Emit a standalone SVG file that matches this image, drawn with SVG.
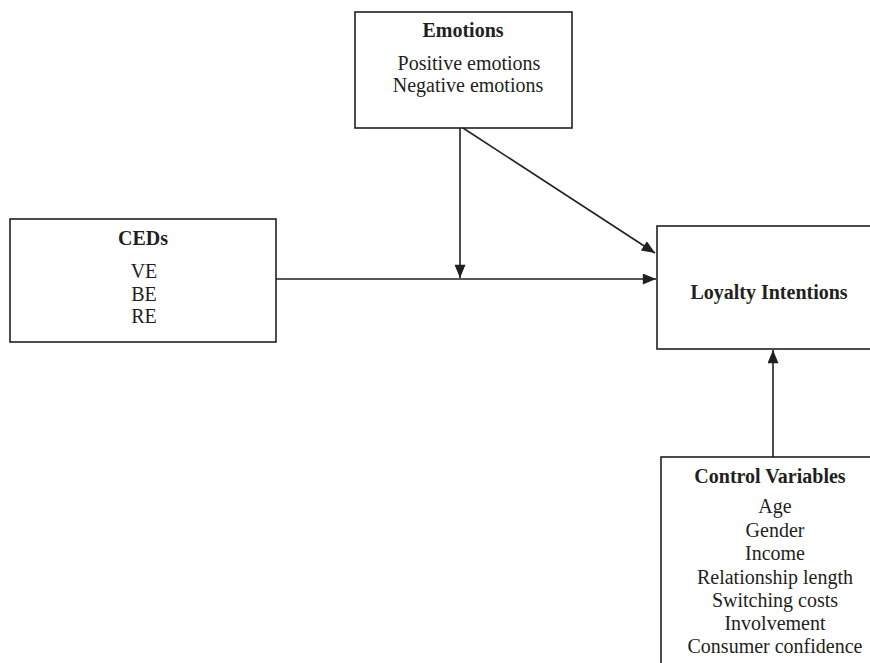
<svg xmlns="http://www.w3.org/2000/svg" width="870" height="663" viewBox="0 0 870 663">
<style>
.box{fill:#fff;stroke:#231f20;stroke-width:1.6}
.t{font-family:"Liberation Serif","Times New Roman",serif;font-size:20px;fill:#231f20;text-anchor:middle}
.b{font-weight:bold}
.c{stroke:#231f20;stroke-width:1.6;fill:none}
</style>
<defs>
<marker id="ah2" viewBox="0 0 12 10" refX="12" refY="5" markerWidth="14" markerHeight="11" markerUnits="userSpaceOnUse" orient="auto">
<path d="M0,0 L12,5 L0,10 z" fill="#231f20"/>
</marker>
</defs>
<g id="emotions">
<rect class="box" x="355" y="12" width="217" height="116"/>
<text class="t b" x="463" y="37">Emotions</text>
<text class="t" x="469" y="70">Positive emotions</text>
<text class="t" x="468" y="92">Negative emotions</text>
</g>
<g id="ceds">
<rect class="box" x="10" y="219" width="266" height="123"/>
<text class="t b" x="143" y="245">CEDs</text>
<text class="t" x="144" y="278">VE</text>
<text class="t" x="144" y="301">BE</text>
<text class="t" x="144" y="323">RE</text>
</g>
<g id="loyalty">
<rect class="box" x="657" y="226" width="220" height="123"/>
<text class="t b" x="769" y="299">Loyalty Intentions</text>
</g>
<g id="control">
<rect class="box" x="661" y="457" width="220" height="220"/>
<text class="t b" x="770" y="483">Control Variables</text>
<text class="t" x="775" y="513">Age</text>
<text class="t" x="775" y="537">Gender</text>
<text class="t" x="775" y="560">Income</text>
<text class="t" x="775" y="584">Relationship length</text>
<text class="t" x="775" y="607">Switching costs</text>
<text class="t" x="775" y="630">Involvement</text>
<text class="t" x="775" y="653">Consumer confidence</text>
</g>
<g id="connectors">
<line class="c" x1="276" y1="279" x2="656" y2="279" marker-end="url(#ah2)"/>
<line class="c" x1="460" y1="128" x2="460" y2="278" marker-end="url(#ah2)"/>
<line class="c" x1="463" y1="128" x2="655" y2="253" marker-end="url(#ah2)"/>
<line class="c" x1="773" y1="457" x2="773" y2="350" marker-end="url(#ah2)"/>
</g>
</svg>
